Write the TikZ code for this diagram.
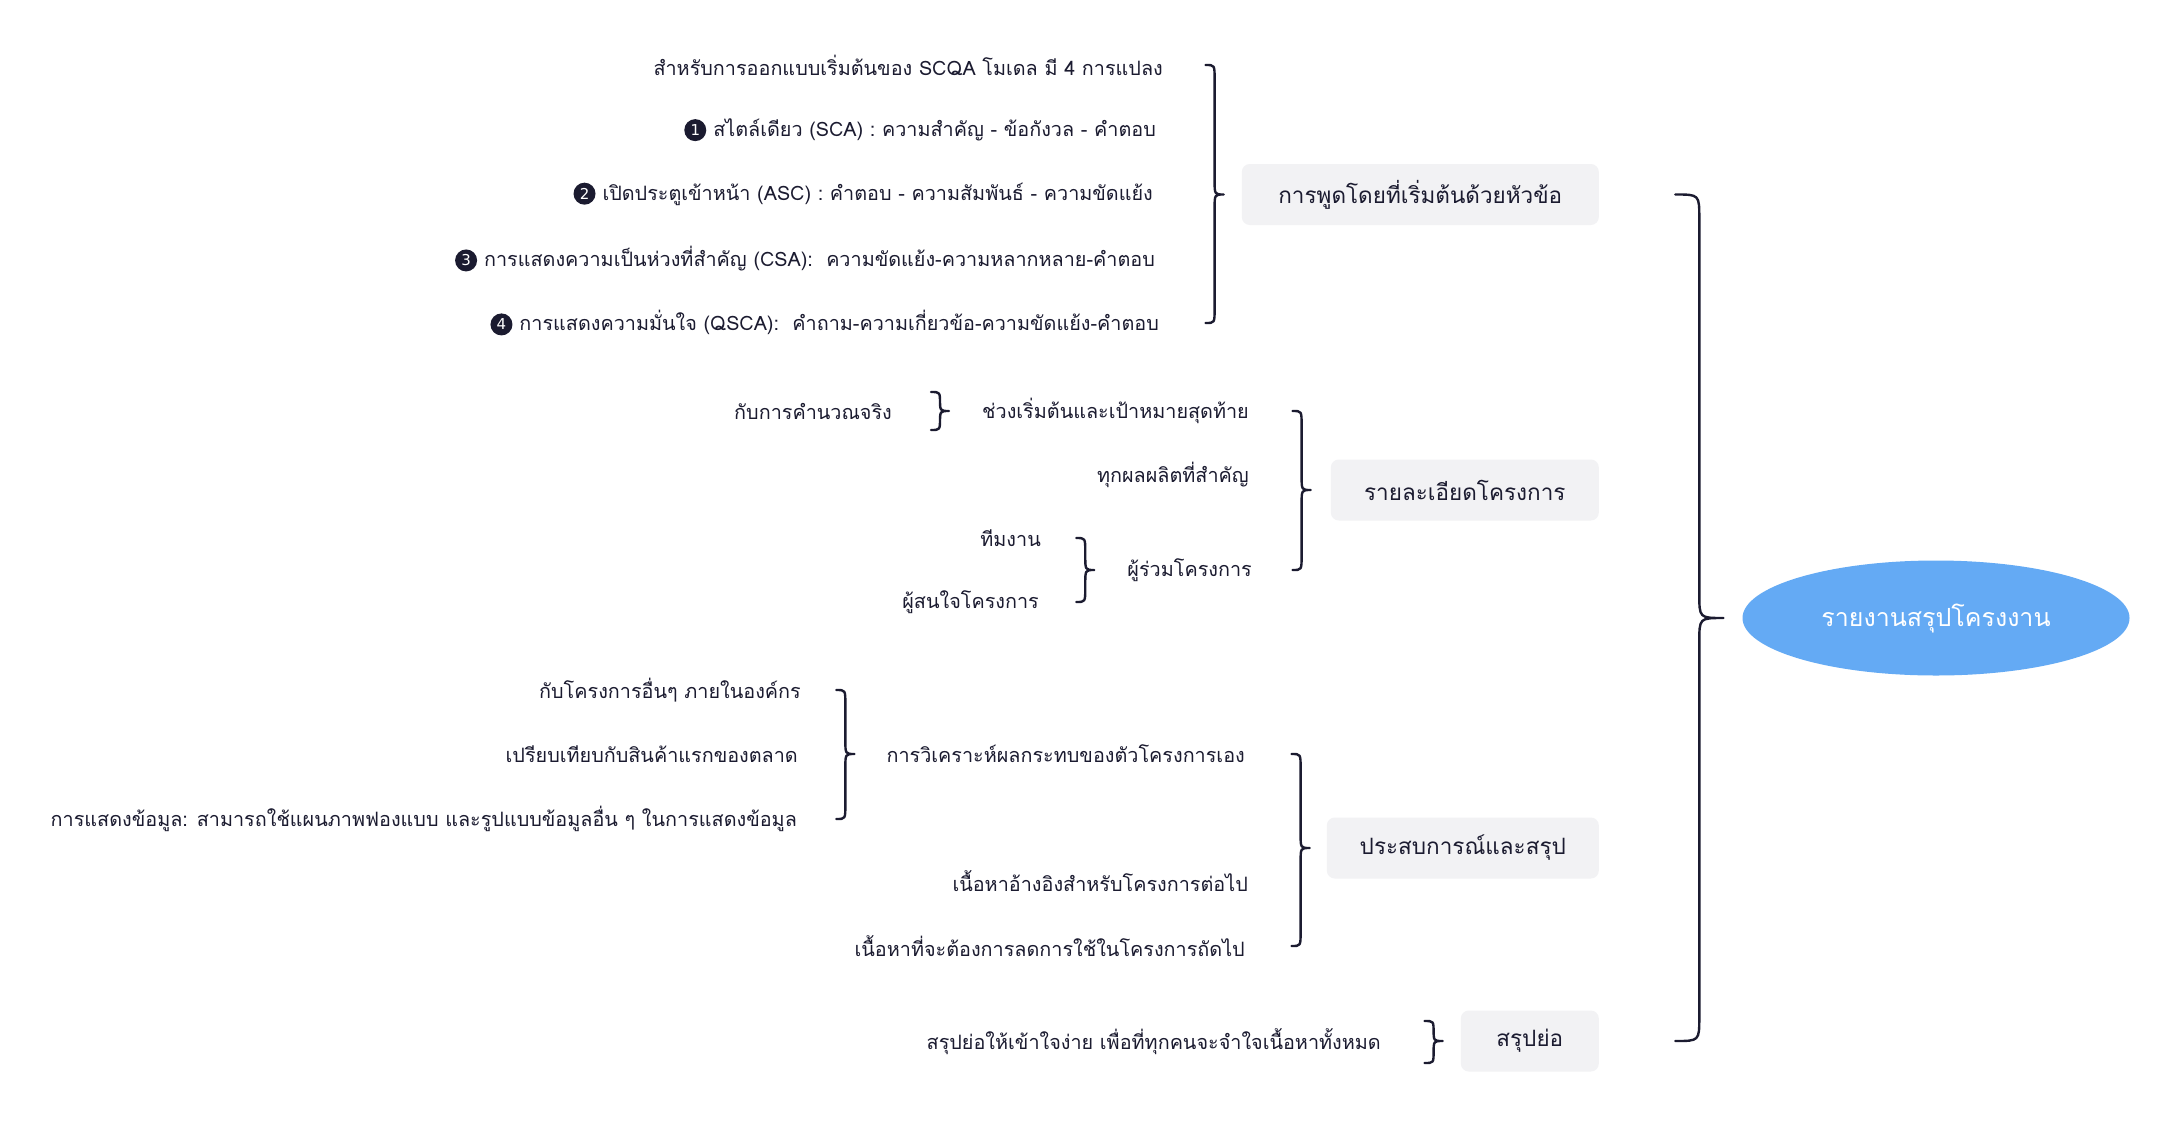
\documentclass[tikz,border=0pt]{standalone}
\usepackage{fontspec}
\setmainfont[Script=Thai]{Loma}
\newfontfamily\dvs{DejaVu Sans}
\usetikzlibrary{shapes.geometric,calc}
\definecolor{ink}{HTML}{1B1B30}
\definecolor{boxfill}{HTML}{F2F2F4}
\definecolor{rootfill}{HTML}{64AAF4}
\newcommand\numc[1]{\tikz[baseline=-6.5pt]\node[circle, fill=ink, text=white, inner sep=0pt, minimum size=22pt, font=\dvs\fontsize{15}{15}\selectfont] (n#1) at (0pt,0pt) {#1};\hspace{7pt}}
\tikzset{
  leaf/.style={anchor=east, inner sep=0pt, text=ink, font=\fontsize{19.8}{23}\selectfont},
  topic/.style={anchor=east, fill=boxfill, rounded corners=8pt, minimum height=61pt, inner sep=0pt, text=ink, font=\fontsize{22.5}{26}\selectfont},
  rootnode/.style={ellipse, fill=rootfill, text=white, minimum width=387pt, minimum height=115pt, inner sep=0pt, font=\fontsize{25}{29}\selectfont},
  brc/.style={draw=ink, line width=2.4pt, line cap=round, line join=round},
}
% brace over several children: #1 first child, #2 last child, #3 parent, #4 gap, #5 half width, #6 radius
\newcommand\multibrace[6]{%
  \draw[brc] let \p1=(#1), \p2=(#2), \p3=(#3.west) in
    (\x3-#4-2*#5,\y1) .. controls (\x3-#4-#5,\y1) .. (\x3-#4-#5,\y1-#6)
    -- (\x3-#4-#5,\y3+#6) .. controls (\x3-#4-#5,\y3) .. (\x3-#4,\y3)
    .. controls (\x3-#4-#5,\y3) .. (\x3-#4-#5,\y3-#6)
    -- (\x3-#4-#5,\y2+#6) .. controls (\x3-#4-#5,\y2) .. (\x3-#4-2*#5,\y2);}
% brace for one child: #1 child, #2 parent, #3 gap, #4 half width, #5 radius, #6 half height
\newcommand\onebrace[6]{%
  \draw[brc] let \p1=(#1), \p3=(#2.west) in
    (\x3-#3-2*#4,\y1+#6) .. controls (\x3-#3-#4,\y1+#6) .. (\x3-#3-#4,\y1+#6-#5)
    -- (\x3-#3-#4,\y3+#5) .. controls (\x3-#3-#4,\y3) .. (\x3-#3,\y3)
    .. controls (\x3-#3-#4,\y3) .. (\x3-#3-#4,\y3-#5)
    -- (\x3-#3-#4,\y1-#6+#5) .. controls (\x3-#3-#4,\y1-#6) .. (\x3-#3-2*#4,\y1-#6);}
\begin{document}
\begin{tikzpicture}[x=1pt,y=-1pt]
\fill[white] (0,0) rectangle (2176,1133);
\useasboundingbox (0,0) rectangle (2176,1133);

% root
\node[rootnode] (root) at (1936,618) {รายงานสรุปโครงงาน};

% topics
\node[topic, minimum width=357pt] (t1) at (1599,194.5) {การพูดโดยที่เริ่มต้นด้วยหัวข้อ};
\node[topic, minimum width=268pt] (t2) at (1599,490) {รายละเอียดโครงการ};
\node[topic, minimum width=272pt] (t3) at (1599,848) {ประสบการณ์และสรุป};
\node[topic, minimum width=138pt] (t4) at (1599,1041) {สรุปย่อ};

% topic 1 children
\node[leaf] (c11) at (1163,65) {สำหรับการออกแบบเริ่มต้นของ SCQA โมเดล มี 4 การแปลง};
\node[leaf] (c12) at (1156,130) {\numc{1}สไตล์เดียว (SCA) : ความสำคัญ - ข้อกังวล - คำตอบ};
\node[leaf] (c13) at (1153,194) {\numc{2}เปิดประตูเข้าหน้า (ASC) : คำตอบ - ความสัมพันธ์ - ความขัดแย้ง};
\node[leaf] (c14) at (1155,259) {\numc{3}การแสดงความเป็นห่วงที่สำคัญ (CSA):\ \ ความขัดแย้ง-ความหลากหลาย-คำตอบ};
\node[leaf] (c15) at (1159,323) {\numc{4}การแสดงความมั่นใจ (QSCA):\ \ คำถาม-ความเกี่ยวข้อ-ความขัดแย้ง-คำตอบ};

% topic 2 children
\node[leaf] (c21) at (1249,411) {ช่วงเริ่มต้นและเป้าหมายสุดท้าย};
\node[leaf] (c22) at (1249,475) {ทุกผลผลิตที่สำคัญ};
\node[leaf] (c23) at (1252,570) {ผู้ร่วมโครงการ};
\node[leaf] (g211) at (892,411) {กับการคำนวณจริง};
\node[leaf] (g231) at (1041,538) {ทีมงาน};
\node[leaf] (g232) at (1039,602) {ผู้สนใจโครงการ};

% topic 3 children
\node[leaf] (c31) at (1245,754) {การวิเคราะห์ผลกระทบของตัวโครงการเอง};
\node[leaf] (c32) at (1248,881) {เนื้อหาอ้างอิงสำหรับโครงการต่อไป};
\node[leaf] (c33) at (1245,946) {เนื้อหาที่จะต้องการลดการใช้ในโครงการถัดไป};
\node[leaf] (g311) at (801,690) {กับโครงการอื่นๆ ภายในองค์กร};
\node[leaf] (g312) at (798,754) {เปรียบเทียบกับสินค้าแรกของตลาด};
\node[leaf] (g313) at (797,819) {การแสดงข้อมูล: สามารถใช้แผนภาพฟองแบบ และรูปแบบข้อมูลอื่น ๆ ในการแสดงข้อมูล};

% topic 4 child
\node[leaf] (c41) at (1381,1042) {สรุปย่อให้เข้าใจง่าย เพื่อที่ทุกคนจะจำใจเนื้อหาทั้งหมด};

% braces
\multibrace{t1}{t4}{root}{19pt}{24pt}{24pt}
\multibrace{c11}{c15}{t1}{18pt}{9pt}{14pt}
\multibrace{c21}{c23}{t2}{20pt}{9pt}{14pt}
\multibrace{c31}{c33}{t3}{17pt}{9pt}{14pt}
\onebrace{c41}{t4}{18pt}{9pt}{12pt}{21pt}
\onebrace{g211}{c21}{33pt}{9pt}{12pt}{19pt}
\multibrace{g231}{g232}{c23}{33pt}{9pt}{14pt}
\multibrace{g311}{g313}{c31}{32pt}{9pt}{14pt}
\end{tikzpicture}
\end{document}
